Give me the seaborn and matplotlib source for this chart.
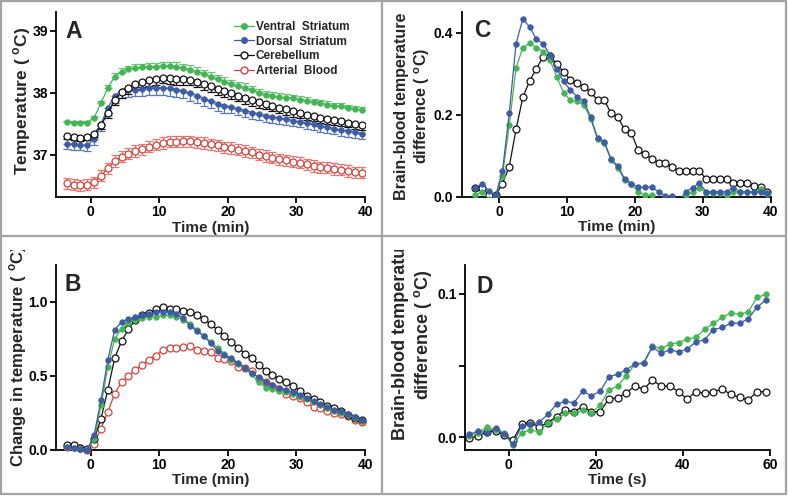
import numpy as np
import matplotlib
matplotlib.use("Agg")
import matplotlib.pyplot as plt
from matplotlib.lines import Line2D
from matplotlib.transforms import Bbox, TransformedBbox
import seaborn as sns

# ---- data ----
t_min = np.arange(-3.5, 40, 1.0)   # 1-min bins, panels A-C
t_sec = np.arange(-9, 60, 2.0)     # 2-s bins, panel D

ventral_temp = [37.53, 37.52, 37.52, 37.52,
                37.60, 37.83, 38.08, 38.26, 38.34, 38.38, 38.40, 38.41, 38.42, 38.42,
                38.43, 38.43, 38.42, 38.40, 38.37, 38.34, 38.30, 38.26, 38.22, 38.18,
                38.14, 38.11, 38.08, 38.04, 38.00, 37.97, 37.95, 37.93, 37.92, 37.91,
                37.89, 37.87, 37.85, 37.83, 37.81, 37.79, 37.78, 37.76, 37.74, 37.72]
dorsal_temp = [37.18, 37.17, 37.16, 37.15,
               37.25, 37.49, 37.76, 37.95, 38.03, 38.04, 38.05, 38.06, 38.07, 38.08,
               38.08, 38.07, 38.05, 38.03, 37.99, 37.95, 37.90, 37.86, 37.82, 37.79,
               37.77, 37.74, 37.71, 37.68, 37.66, 37.63, 37.61, 37.59, 37.57, 37.55,
               37.53, 37.51, 37.49, 37.46, 37.44, 37.42, 37.40, 37.38, 37.36, 37.34]
cereb_temp = [37.30, 37.28, 37.27, 37.28,
              37.34, 37.48, 37.67, 37.89, 38.01, 38.07, 38.14, 38.18, 38.20, 38.22,
              38.24, 38.23, 38.22, 38.22, 38.21, 38.18, 38.14, 38.10, 38.06, 38.02,
              37.99, 37.95, 37.91, 37.88, 37.85, 37.82, 37.79, 37.76, 37.73, 37.70,
              37.67, 37.64, 37.62, 37.60, 37.58, 37.56, 37.54, 37.52, 37.50, 37.48]
blood_temp = [36.54, 36.52, 36.51, 36.52,
              36.56, 36.66, 36.78, 36.90, 36.97, 37.02, 37.06, 37.09, 37.13, 37.16,
              37.19, 37.21, 37.21, 37.22, 37.22, 37.20, 37.19, 37.17, 37.15, 37.12,
              37.11, 37.08, 37.06, 37.04, 37.00, 36.98, 36.95, 36.93, 36.91, 36.89,
              36.87, 36.85, 36.82, 36.80, 36.79, 36.77, 36.76, 36.74, 36.72, 36.71]

ventral_sem = [0.02, 0.02, 0.02, 0.02,
               0.03, 0.04, 0.05, 0.05, 0.05, 0.05, 0.06, 0.06, 0.06, 0.06,
               0.06, 0.06, 0.07, 0.07, 0.07, 0.07, 0.07, 0.07, 0.07, 0.07,
               0.07, 0.07, 0.07, 0.07, 0.06, 0.06, 0.06, 0.06, 0.06, 0.06,
               0.06, 0.06, 0.05, 0.05, 0.05, 0.05, 0.05, 0.05, 0.05, 0.05]
dorsal_sem = [0.09, 0.09, 0.09, 0.09,
              0.10, 0.11, 0.12, 0.12, 0.11, 0.11, 0.11, 0.11, 0.11, 0.12,
              0.12, 0.12, 0.12, 0.12, 0.12, 0.11, 0.11, 0.11, 0.11, 0.11,
              0.10, 0.10, 0.10, 0.10, 0.10, 0.10, 0.10, 0.10, 0.09, 0.09,
              0.09, 0.09, 0.09, 0.09, 0.09, 0.09, 0.09, 0.09, 0.09, 0.09]
cereb_sem = [0.04, 0.04, 0.04, 0.04,
             0.05, 0.07, 0.08, 0.09, 0.09, 0.09, 0.09, 0.09, 0.09, 0.09,
             0.09, 0.09, 0.09, 0.09, 0.09, 0.09, 0.09, 0.09, 0.09, 0.09,
             0.09, 0.09, 0.09, 0.09, 0.09, 0.09, 0.09, 0.09, 0.09, 0.09,
             0.08, 0.08, 0.08, 0.08, 0.08, 0.08, 0.08, 0.08, 0.08, 0.08]
blood_sem = [0.09, 0.09, 0.09, 0.09,
             0.09, 0.09, 0.09, 0.09, 0.09, 0.09, 0.09, 0.09, 0.09, 0.09,
             0.09, 0.09, 0.09, 0.09, 0.09, 0.09, 0.09, 0.09, 0.09, 0.09,
             0.09, 0.09, 0.09, 0.09, 0.09, 0.09, 0.09, 0.09, 0.09, 0.09,
             0.09, 0.09, 0.09, 0.09, 0.09, 0.09, 0.09, 0.09, 0.09, 0.09]

ventral_change = [0.02, 0.01, 0.005, 0.0,
                  0.07, 0.30, 0.56, 0.75, 0.82, 0.86, 0.88, 0.89, 0.90, 0.90,
                  0.91, 0.91, 0.90, 0.88, 0.85, 0.81, 0.77, 0.73, 0.69, 0.65,
                  0.61, 0.58, 0.55, 0.51, 0.455, 0.42, 0.41, 0.40, 0.39, 0.38,
                  0.36, 0.34, 0.32, 0.30, 0.28, 0.265, 0.25, 0.235, 0.215, 0.195]
dorsal_change = [0.02, 0.01, 0.005, 0.0,
                 0.10, 0.335, 0.61, 0.81, 0.865, 0.885, 0.90, 0.91, 0.92, 0.93,
                 0.935, 0.93, 0.92, 0.89, 0.84, 0.80, 0.77, 0.72, 0.67, 0.64,
                 0.62, 0.585, 0.555, 0.52, 0.49, 0.46, 0.44, 0.42, 0.405, 0.39,
                 0.37, 0.35, 0.33, 0.31, 0.29, 0.27, 0.26, 0.24, 0.22, 0.20]
cereb_change = [0.035, 0.03, 0.01, 0.005,
                0.07, 0.21, 0.405, 0.62, 0.735, 0.815, 0.88, 0.91, 0.925, 0.95,
                0.965, 0.955, 0.95, 0.94, 0.93, 0.91, 0.885, 0.85, 0.81, 0.77,
                0.73, 0.69, 0.65, 0.62, 0.575, 0.535, 0.505, 0.48, 0.455, 0.43,
                0.40, 0.365, 0.34, 0.32, 0.295, 0.28, 0.26, 0.235, 0.215, 0.20]
blood_change = [0.02, 0.015, 0.01, 0.0,
                0.04, 0.143, 0.255, 0.38, 0.456, 0.50, 0.539, 0.572, 0.61, 0.637,
                0.675, 0.69, 0.69, 0.694, 0.70, 0.676, 0.67, 0.66, 0.62, 0.615,
                0.60, 0.56, 0.55, 0.53, 0.48, 0.456, 0.434, 0.41, 0.38, 0.366,
                0.35, 0.32, 0.29, 0.28, 0.265, 0.25, 0.24, 0.23, 0.20, 0.19]

ventral_diff = [0.004, 0.012, -0.005, 0.002,
                0.051, 0.174, 0.314, 0.363, 0.374, 0.363, 0.353, 0.333, 0.292, 0.253,
                0.235, 0.233, 0.223, 0.19, 0.14, 0.13, 0.09, 0.07, 0.04, 0.03,
                0.012, 0.003, 0.003, -0.01, -0.01, -0.01, -0.01, 0.003, 0.012, 0.022,
                0.01, 0.01, 0.008, 0.003, 0.012, 0.012, 0.012, 0.012, 0.018, 0.006]
dorsal_diff = [0.02, 0.032, 0.014, 0.003,
               0.0625, 0.203, 0.373, 0.433, 0.414, 0.383, 0.373, 0.345, 0.312, 0.281,
               0.26, 0.243, 0.233, 0.193, 0.144, 0.134, 0.091, 0.075, 0.043, 0.032,
               0.023, 0.023, 0.023, 0.012, 0.002, 0.002, -0.01, 0.012, 0.022, 0.033,
               0.012, 0.012, 0.012, 0.012, 0.022, 0.012, 0.012, 0.012, 0.012, 0.008]
cereb_diff = [0.022, 0.02, 0.005, 0.003,
              0.032, 0.073, 0.164, 0.242, 0.282, 0.312, 0.341, 0.343, 0.324, 0.304,
              0.285, 0.277, 0.267, 0.255, 0.235, 0.235, 0.203, 0.193, 0.164, 0.154,
              0.113, 0.103, 0.093, 0.083, 0.083, 0.073, 0.063, 0.063, 0.063, 0.063,
              0.043, 0.043, 0.043, 0.043, 0.033, 0.033, 0.033, 0.025, 0.023, 0.012]

ventral_fast = [0.001, 0.003, 0.0074, 0.005, 0.003, -0.0055, 0.0032, 0.005, 0.004, 0.0097,
                0.0125, 0.017, 0.0167, 0.019, 0.0167, 0.0225, 0.033, 0.0357, 0.0427, 0.051,
                0.052, 0.0633, 0.062, 0.0647, 0.066, 0.0684, 0.0696, 0.0752, 0.0793, 0.0835,
                0.0868, 0.0856, 0.0874, 0.0974, 0.0995]
dorsal_fast = [0.002, 0.0045, 0.003, 0.0065, 0.002, -0.0045, 0.008, 0.009, 0.0105, 0.016,
               0.023, 0.025, 0.024, 0.032, 0.029, 0.032, 0.042, 0.044, 0.047, 0.051,
               0.0515, 0.063, 0.0585, 0.061, 0.0595, 0.0615, 0.0665, 0.068, 0.075, 0.0765,
               0.0795, 0.0795, 0.0825, 0.0905, 0.0955]
cereb_fast = [-0.0007, 0.0011, 0.0035, 0.0046, 0.0016, -0.002, 0.0093, 0.0102, 0.0074, 0.0102,
              0.0144, 0.019, 0.0179, 0.0214, 0.0179, 0.0179, 0.0267, 0.0275, 0.031, 0.0357,
              0.0334, 0.0399, 0.0357, 0.0357, 0.0318, 0.0267, 0.0318, 0.0306, 0.0318, 0.0336,
              0.0299, 0.0278, 0.026, 0.0318, 0.0318]

labels = ["Ventral  Striatum", "Dorsal  Striatum", "Cerebellum", "Arterial  Blood"]

GREEN = "#45b553"
BLUE = "#3c5ca4"
RED = "#d8433b"
BLACK = "#111111"

sns.set_style("ticks")
plt.rcParams["font.family"] = ["Liberation Sans", "DejaVu Sans"]
plt.rcParams["font.weight"] = "bold"
plt.rcParams["mathtext.fontset"] = "custom"
plt.rcParams["mathtext.rm"] = "Liberation Sans:bold"
plt.rcParams["mathtext.bf"] = "Liberation Sans:bold"

W, H = 788, 496
fig = plt.figure(figsize=(W / 100, H / 100), dpi=100)
fig.patch.set_facecolor("white")


def px_axes(l, t, r, b):
    return fig.add_axes([l / W, 1 - b / H, (r - l) / W, (b - t) / H])


def style_axes(ax):
    sns.despine(ax=ax)
    for s in ("left", "bottom"):
        ax.spines[s].set_linewidth(1.3)
        ax.spines[s].set_color("black")
    ax.tick_params(direction="out", length=4, width=1.3, labelsize=10,
                   colors="black", pad=2)
    for lab in ax.get_xticklabels() + ax.get_yticklabels():
        lab.set_fontweight("bold")
    ax.set_facecolor("white")


def filled(ax, x, y, color, clip=True):
    sns.lineplot(x=x, y=y, ax=ax, color=color, linewidth=0.9, marker="o",
                 markersize=4, markerfacecolor=color, markeredgecolor=color,
                 markeredgewidth=0.5, estimator=None, clip_on=clip, zorder=3)


def hollow(ax, x, y, color, clip=True):
    sns.lineplot(x=x, y=y, ax=ax, color=color, linewidth=0.9, marker="o",
                 markersize=5, markerfacecolor="white", markeredgecolor=color,
                 markeredgewidth=0.9, estimator=None, clip_on=clip, zorder=3)


# ---- Panel A ----
axA = px_axes(56.4, 12, 365, 197)
zero = np.zeros(len(t_min))
axA.errorbar(t_min, ventral_temp, yerr=[zero, ventral_sem], fmt="none",
             ecolor="#6cc477", elinewidth=0.9, capsize=3, capthick=0.9, zorder=2)
axA.errorbar(t_min, dorsal_temp, yerr=[dorsal_sem, zero], fmt="none",
             ecolor="#5a78b8", elinewidth=0.9, capsize=3, capthick=0.9, zorder=2)
axA.errorbar(t_min, cereb_temp, yerr=[cereb_sem, zero], fmt="none",
             ecolor=BLACK, elinewidth=0.9, capsize=3, capthick=0.9, zorder=2)
axA.errorbar(t_min, blood_temp, yerr=[blood_sem, blood_sem], fmt="none",
             ecolor="#e07a73", elinewidth=0.9, capsize=3, capthick=0.9, zorder=2)
filled(axA, t_min, ventral_temp, GREEN)
filled(axA, t_min, dorsal_temp, BLUE)
hollow(axA, t_min, cereb_temp, BLACK)
hollow(axA, t_min, blood_temp, RED)
axA.set_xlim(-5, 40)
axA.set_ylim(36.32, 39.3)
axA.set_xticks([0, 10, 20, 30, 40])
axA.set_yticks([37, 38, 39])
style_axes(axA)
axA.set_xlabel("Time (min)", fontsize=11, fontweight="bold", labelpad=1)
axA.set_ylabel("")

handles = [
    Line2D([], [], color=GREEN, marker="o", markersize=4, mfc=GREEN, mec=GREEN, lw=0.9),
    Line2D([], [], color=BLUE, marker="o", markersize=4, mfc=BLUE, mec=BLUE, lw=0.9),
    Line2D([], [], color=BLACK, marker="o", markersize=5, mfc="white", mec=BLACK, lw=0.9),
    Line2D([], [], color=RED, marker="o", markersize=5, mfc="white", mec=RED, lw=0.9),
]
fig.legend(handles, labels, loc="upper left", bbox_to_anchor=(234 / W, 1 - 21 / H),
           frameon=False, prop={"weight": "bold", "size": 8.5}, handlelength=1.7,
           handletextpad=0.15, labelspacing=0.22, borderpad=0, borderaxespad=0)

# ---- Panel B ----
axB = px_axes(56.4, 265, 365, 449.7)
hollow(axB, t_min, blood_change, RED, clip=False)
hollow(axB, t_min, cereb_change, BLACK, clip=False)
filled(axB, t_min, ventral_change, GREEN, clip=False)
filled(axB, t_min, dorsal_change, BLUE, clip=False)
axB.set_xlim(-5, 40)
axB.set_ylim(0, 1.25)
axB.set_xticks([0, 10, 20, 30, 40])
axB.set_yticks([0, 0.5, 1.0])
axB.set_yticklabels(["0.0", "0.5", "1.0"])
style_axes(axB)
axB.set_xlabel("Time (min)", fontsize=11, fontweight="bold", labelpad=1)
axB.set_ylabel("")

# ---- Panel C ----
axC = px_axes(461.7, 12, 770.7, 196.7)
hollow(axC, t_min, cereb_diff, BLACK)
filled(axC, t_min, ventral_diff, GREEN)
filled(axC, t_min, dorsal_diff, BLUE)
axC.set_xlim(-5.5, 40)
axC.set_ylim(0, 0.45)
axC.set_xticks([0, 10, 20, 30, 40])
axC.set_yticks([0, 0.2, 0.4])
axC.set_yticklabels(["0.0", "0.2", "0.4"])
style_axes(axC)
axC.set_xlabel("Time (min)", fontsize=11, fontweight="bold", labelpad=1)
axC.set_ylabel("")

# ---- Panel D ----
axD = px_axes(465, 265, 770, 449.7)
hollow(axD, t_sec, cereb_fast, BLACK)
filled(axD, t_sec, ventral_fast, GREEN)
filled(axD, t_sec, dorsal_fast, BLUE)
axD.set_xlim(-10, 60)
axD.set_ylim(-0.0086, 0.12)
axD.set_xticks([0, 20, 40, 60])
axD.set_yticks([0, 0.05, 0.1])
axD.set_yticklabels(["0.0", "", "0.1"])
style_axes(axD)
axD.set_xlabel("Time (s)", fontsize=11, fontweight="bold", labelpad=1)
axD.set_ylabel("")

# ---- axis titles and panel letters ----
deg = r"( $^{\mathbf{o}}$C)"
fig.text(22 / W, 1 - 101 / H, "Temperature " + deg, rotation=90, ha="center",
         va="center", fontsize=12.5, fontweight="bold")
tb = fig.text(18 / W, 1 - 467 / H, "Change in temperature " + deg, rotation=90,
              ha="center", va="bottom", fontsize=12, fontweight="bold")
fig.text(413 / W, 1 - 106 / H, "Brain-blood temperature\ndifference " + deg,
         rotation=90, ha="center", va="center", fontsize=11.5, fontweight="bold",
         linespacing=1.25, multialignment="center")
td = fig.text(413 / W, 1 - 335 / H, "Brain-blood temperature\ndifference " + deg,
              rotation=90, ha="center", va="center", fontsize=13, fontweight="bold",
              linespacing=1.2, multialignment="center")
clip = TransformedBbox(Bbox.from_extents(0, 0, 1, 1 - 250 / H), fig.transFigure)
for txt in (tb, td):
    txt.set_clip_on(True)
    txt.set_clip_box(clip)

for letter, x, y in (("A", 65, 38), ("B", 65, 291), ("C", 474, 37), ("D", 476, 293)):
    fig.text(x / W, 1 - y / H, letter, fontsize=16.5, fontweight="bold", va="baseline")

# ---- grey panel frame ----
grey = "#a3a3a3"
for (x0, y0, x1, y1) in ((1, 1, 786, 1), (1, 494, 786, 494), (1, 1, 1, 494),
                         (786, 1, 786, 494), (382, 1, 382, 494), (1, 236, 786, 236)):
    fig.add_artist(Line2D([x0 / W, x1 / W], [1 - y0 / H, 1 - y1 / H],
                          transform=fig.transFigure, color=grey, lw=1.6))

fig.savefig("out.png", dpi=100, facecolor="white")
